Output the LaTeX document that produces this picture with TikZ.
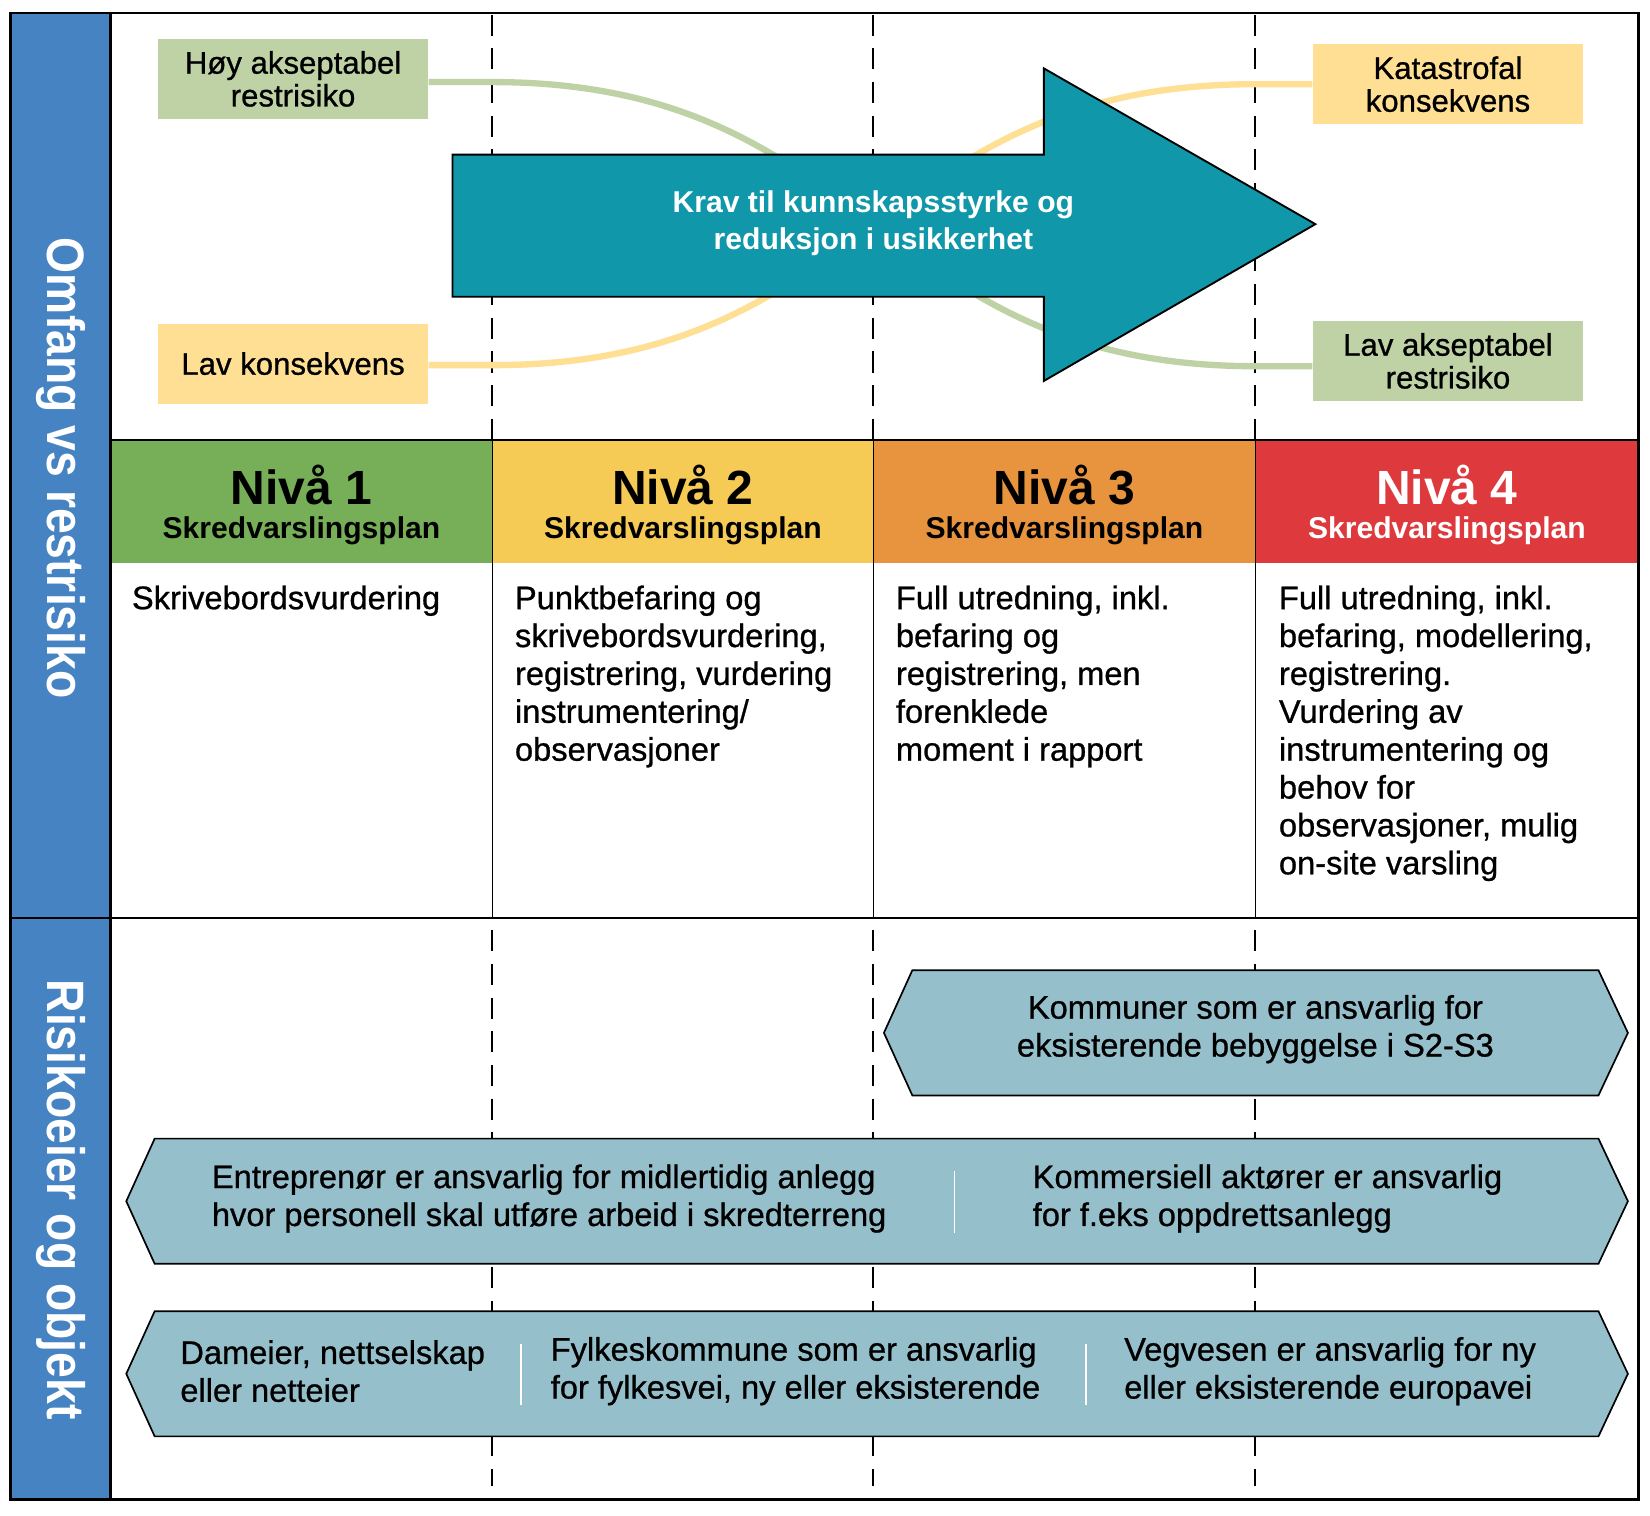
\documentclass[tikz,border=0pt]{standalone}
\usepackage{fontspec}
\setmainfont{Liberation Sans}
\newfontfamily\medfont[FakeBold=0.8]{Liberation Sans}
\definecolor{colblue}{HTML}{4683C2}
\definecolor{nivgreen}{HTML}{76AF58}
\definecolor{nivyellow}{HTML}{F6CB55}
\definecolor{nivorange}{HTML}{E8943F}
\definecolor{nivred}{HTML}{DE393D}
\definecolor{sage}{HTML}{BED2A5}
\definecolor{paleyel}{HTML}{FEDF93}
\definecolor{arrowteal}{HTML}{1097A9}
\definecolor{hexblue}{HTML}{96BFCC}
\tikzset{
  frameline/.style={line width=1pt, black},
  dashline/.style={line width=0.95pt, black, dash pattern=on 10pt off 6pt},
  tbox/.style={inner sep=0pt, minimum width=128.5pt, minimum height=38pt, align=center,
    font=\medfont\fontsize{14.8}{15.6}\selectfont},
  bodytext/.style={anchor=north west, inner sep=0pt, align=left,
    font=\medfont\fontsize{15.5}{18}\selectfont},
  nivtitle/.style={anchor=base, inner sep=0pt, font=\bfseries\fontsize{22.8}{24}\selectfont},
  nivsub/.style={anchor=base, inner sep=0pt, font=\bfseries\fontsize{14.3}{15}\selectfont},
  hexshape/.style={fill=hexblue, draw=black, line width=0.8pt},
  hextext/.style={inner sep=0pt, align=left, font=\medfont\fontsize{15.5}{18}\selectfont},
  sidelabel/.style={rotate=-90, inner sep=0pt, text=white, font=\bfseries\fontsize{25}{26}\selectfont},
  curvegreen/.style={draw=sage, line width=3pt},
  curveyellow/.style={draw=paleyel, line width=3pt},
  sepline/.style={draw=white, line width=0.8pt}
}
\begin{document}
\begin{tikzpicture}[x=0.5pt,y=-0.5pt]
\useasboundingbox (0,0) rectangle (1568,1440);
\fill[white] (0,0) rectangle (1568,1440);
% left blue column
\fill[colblue] (10,12) rectangle (105,1425);
% header cells
\fill[nivgreen] (105,418) rectangle (468,535);
\fill[nivyellow] (468,418) rectangle (830,535);
\fill[nivorange] (830,418) rectangle (1193,535);
\fill[nivred] (1193,418) rectangle (1557,535);
% dashed column guides
\foreach \xx in {468,830,1193} {
  \draw[dashline] (\xx,14) -- (\xx,418);
  \draw[dashline] (\xx,884) -- (\xx,1412);
}
% top boxes
\node[tbox, fill=sage] (hoy) at (278.5,75) {Høy akseptabel\\restrisiko};
\node[tbox, fill=paleyel] (lavk) at (278.5,345.5) {Lav konsekvens};
\node[tbox, fill=paleyel] (kat) at (1376,80) {Katastrofal\\konsekvens};
\node[tbox, fill=sage] (lava) at (1376,343) {Lav akseptabel\\restrisiko};
\coordinate (g1) at (468,78);
\coordinate (g2) at (1193,348);
\coordinate (y1) at (468,347);
\coordinate (y2) at (1193,80);
\draw[curvegreen] (hoy.east |- g1) -- (g1) .. controls (830,78) and (830,348) .. (g2) -- (lava.west |- g2);
\draw[curveyellow] (lavk.east |- y1) -- (y1) .. controls (830,347) and (830,80) .. (y2) -- (kat.west |- y2);
% big arrow
\filldraw[fill=arrowteal, draw=black, line width=0.9pt]
  (430,147) -- (992,147) -- (992,65) -- (1250,213) -- (992,362) -- (992,282) -- (430,282) -- cycle;
\node[inner sep=0pt, align=center, text=white, font=\bfseries\fontsize{14.3}{17.5}\selectfont] (krav) at (830,212)
  {Krav til kunnskapsstyrke og\\reduksjon i usikkerhet};
% header texts
\node[nivtitle] (n1) at (286.5,479) {Nivå 1};
\node[nivsub] (s1) at (286.5,512) {Skredvarslingsplan};
\node[nivtitle] (n2) at (649,479) {Nivå 2};
\node[nivsub] (s2) at (649,512) {Skredvarslingsplan};
\node[nivtitle] (n3) at (1011.5,479) {Nivå 3};
\node[nivsub] (s3) at (1011.5,512) {Skredvarslingsplan};
\node[nivtitle, text=white] (n4) at (1375,479) {Nivå 4};
\node[nivsub, text=white] (s4) at (1375,512) {Skredvarslingsplan};
% body texts
\node[bodytext] (b1) at (125,556) {Skrivebordsvurdering};
\node[bodytext] (b2) at (489,556) {Punktbefaring og\\skrivebordsvurdering,\\registrering, vurdering\\instrumentering/\\observasjoner};
\node[bodytext] (b3) at (851,556) {Full utredning, inkl.\\befaring og\\registrering, men\\forenklede\\moment i rapport};
\node[bodytext] (b4) at (1215,556) {Full utredning, inkl.\\befaring, modellering,\\registrering.\\Vurdering av\\instrumentering og\\behov for\\observasjoner, mulig\\on-site varsling};
% frame lines
\draw[frameline] (105,418) -- (1557,418);
\draw[frameline] (10,872) -- (1557,872);
\foreach \xx in {468,830,1193} { \draw[frameline, line width=0.8pt] (\xx,418) -- (\xx,872); }
\draw[frameline] (105,12) -- (105,1425);
\draw[frameline] (10,12) rectangle (1557,1425);
% side labels
\node[sidelabel] (lab1) at (58,445) {\scalebox{0.88}[1]{Omfang vs restrisiko}};
\node[sidelabel] (lab2) at (58,1140) {\scalebox{0.88}[1]{Risikoeier og objekt}};
% hex row 1
\draw[hexshape] (840,981.5) -- (867,922) -- (1519,922) -- (1547,981.5) -- (1519,1041) -- (867,1041) -- cycle;
\node[hextext, align=center] (komm) at (1193,978) {Kommuner som er ansvarlig for\\eksisterende bebyggelse i S2-S3};
% hex row 2
\draw[hexshape] (120,1141.5) -- (147,1082) -- (1519,1082) -- (1547,1141.5) -- (1519,1201) -- (147,1201) -- cycle;
\draw[sepline] (907,1113) -- (907,1172);
\node[hextext, anchor=west] (entr) at (201,1139) {Entreprenør er ansvarlig for midlertidig anlegg\\hvor personell skal utføre arbeid i skredterreng};
\node[hextext, anchor=west] (komm2) at (981,1139) {Kommersiell aktører er ansvarlig\\for f.eks oppdrettsanlegg};
% hex row 3
\draw[hexshape] (120,1305.5) -- (147,1246) -- (1519,1246) -- (1547,1305.5) -- (1519,1365) -- (147,1365) -- cycle;
\draw[sepline] (495,1277) -- (495,1335);
\draw[sepline] (1032,1277) -- (1032,1335);
\node[hextext, anchor=west] (dam) at (171,1303) {Dameier, nettselskap\\eller netteier};
\node[hextext, anchor=west] (fylk) at (523,1303) {Fylkeskommune som er ansvarlig\\for fylkesvei, ny eller eksisterende};
\node[hextext, anchor=west] (veg) at (1068,1303) {Vegvesen er ansvarlig for ny\\eller eksisterende europavei};
\end{tikzpicture}
\end{document}
